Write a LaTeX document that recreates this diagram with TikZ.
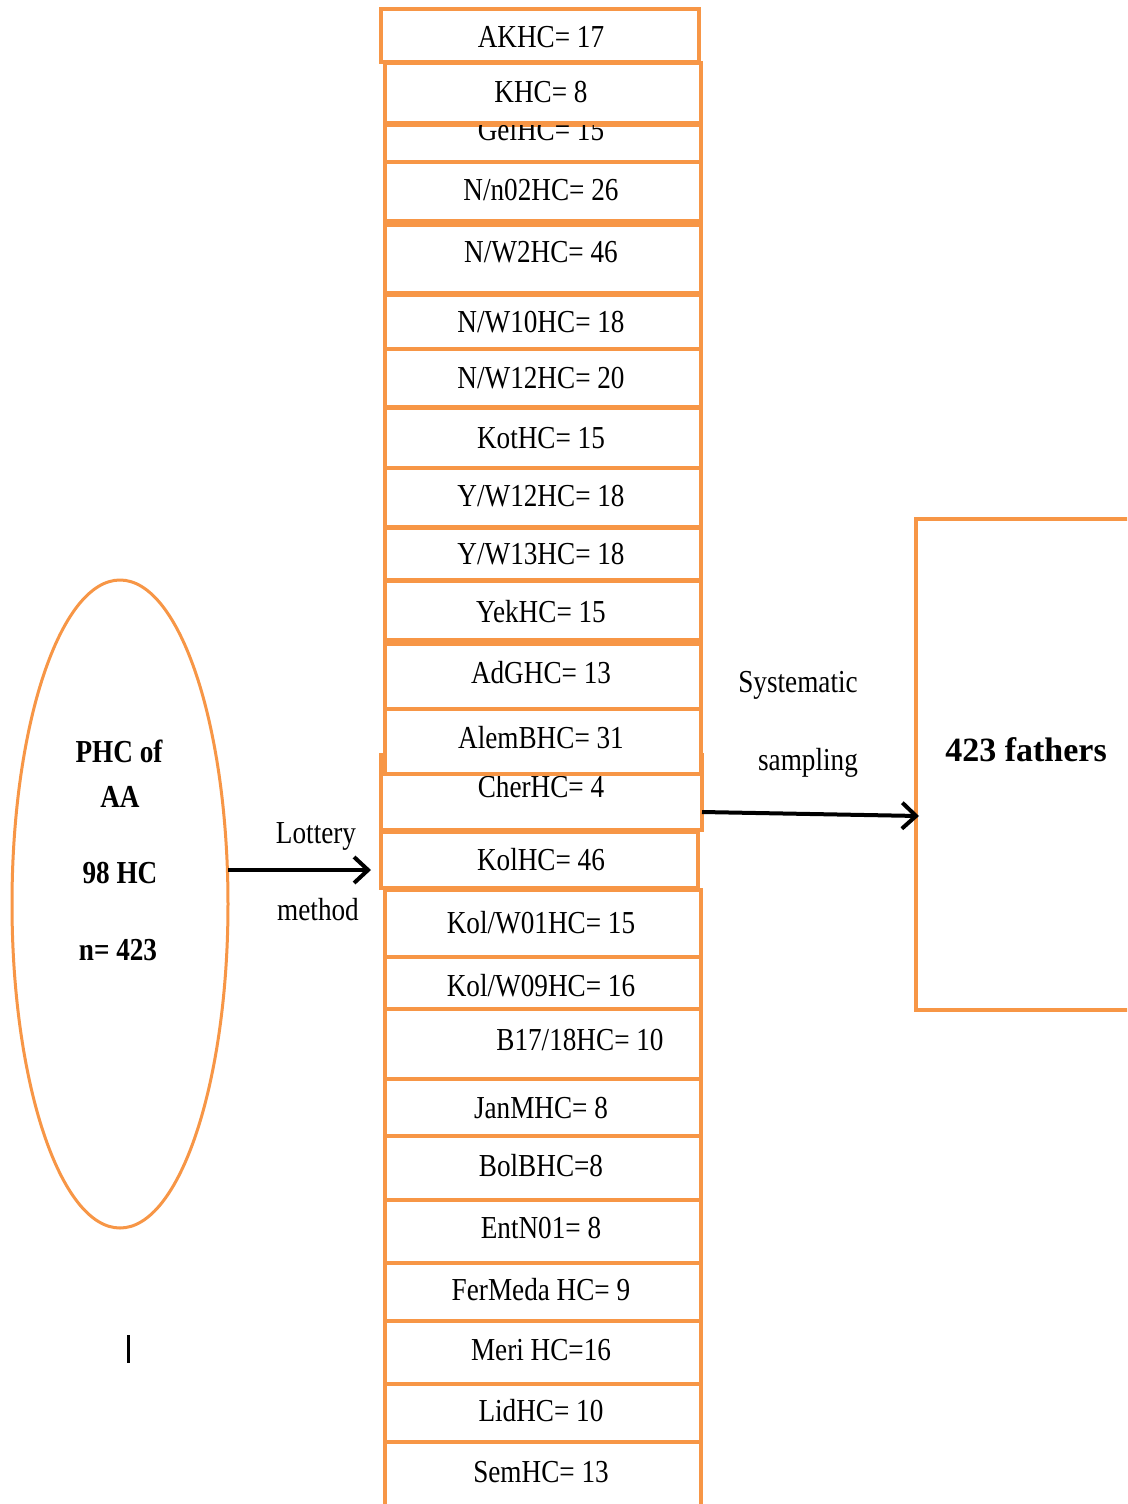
\documentclass[tikz,border=0pt]{standalone}
\usepackage{fontspec}
\setmainfont{Liberation Serif}
\newfontfamily\cond[FakeStretch=0.85]{Liberation Serif}
\usetikzlibrary{arrows.meta,shapes.geometric}
\definecolor{hcorange}{HTML}{F79646}
\tikzset{
 hcbox/.style={draw=hcorange, line width=4.5pt, fill=white, rectangle, inner sep=0pt, outer sep=0pt, anchor=north west},
 hctext/.style={inner sep=0pt, anchor=base, font=\cond\fontsize{32}{38}\selectfont},
 hcbold/.style={hctext, font=\cond\bfseries\fontsize{32}{38}\selectfont},
 flow/.style={line width=4pt, -{Straight Barb[length=14pt,width=26pt,line width=4pt]}},
}
\newcommand\hcb[8]{%
  \node[hcbox, minimum width={#4-#2}, minimum height={#5-#3}] (#1) at (#2,#3) {};
  \node[hctext] (#1t) at (#6,#7+10.5) {#8};
}
\begin{document}
\begin{tikzpicture}[x=1pt,y=-1pt]
\clip (0,0) rectangle (1127,1504);
\fill[white] (0,0) rectangle (1127,1504);
% column of health centres
\hcb{akhc}{381}{9}{699}{62}{541}{37}{AKHC= 17}
\hcb{gel}{385}{125}{701}{162}{541}{130}{GelHC= 15}
\hcb{khc}{385}{63}{701}{123}{541}{92}{KHC= 8}
\hcb{nn02}{385}{162}{701}{221}{541}{190}{N/n02HC= 26}
\hcb{nw2}{385}{225}{701}{293}{541}{252}{N/W2HC= 46}
\hcb{nw10}{385}{295}{701}{349}{541}{322}{N/W10HC= 18}
\hcb{nw12}{385}{349}{701}{407}{541}{378}{N/W12HC= 20}
\hcb{kot}{385}{408}{701}{468}{541}{438}{KotHC= 15}
\hcb{yw12}{385}{468}{701}{527}{541}{496}{Y/W12HC= 18}
\hcb{yw13}{385}{528}{701}{580}{541}{554}{Y/W13HC= 18}
\hcb{yek}{385}{581}{701}{640}{541}{612}{YekHC= 15}
\hcb{adg}{385}{644}{701}{709}{541}{673}{AdGHC= 13}
\hcb{cher}{381}{755}{702}{830}{541}{787}{CherHC= 4}
\hcb{alemb}{385}{709}{701}{774}{541}{738}{AlemBHC= 31}
\hcb{kol}{381}{832}{698}{888}{541}{860}{KolHC= 46}
\hcb{kolw01}{385}{890}{701}{957}{541}{923}{Kol/W01HC= 15}
\hcb{kolw09}{385}{957}{701}{1009}{541}{986}{Kol/W09HC= 16}
\hcb{b17}{385}{1009}{701}{1079}{580}{1040}{B17/18HC= 10}
\hcb{janm}{385}{1079}{701}{1136}{541}{1108}{JanMHC= 8}
\hcb{bolb}{385}{1136}{701}{1200}{541}{1166}{BolBHC=8}
\hcb{entn}{385}{1200}{701}{1263}{541}{1228}{EntN01= 8}
\hcb{fermeda}{385}{1263}{701}{1321}{541}{1290}{FerMeda HC= 9}
\hcb{meri}{385}{1321}{701}{1384}{541}{1350}{Meri HC=16}
\hcb{lid}{385}{1384}{701}{1442}{541}{1411}{LidHC= 10}
\hcb{sem}{385}{1442}{701}{1520}{541}{1472}{SemHC= 13}
% population ellipse
\node[ellipse, draw=hcorange, line width=3pt, minimum width=216, minimum height=648, inner sep=0pt] (phc) at (120,904) {};
\node[hcbold] (phc1) at (119,752+10.5) {PHC of};
\node[hcbold] (phc2) at (120,797+10.5) {AA};
\node[hcbold] (phc3) at (120,873+10.5) {98 HC};
\node[hcbold] (phc4) at (118,950+10.5) {n= 423};
% sample box
\node[hcbox, line width=4pt, minimum width=240, minimum height=491] (fbox) at (916,519) {};
\node[hctext, font=\bfseries\fontsize{34}{40}\selectfont] (fathers) at (1026,750+11) {423 fathers};
% arrows
\coordinate (a1s) at (228,870);
\coordinate (a1e) at (371,870);
\draw[flow] (a1s) -- (a1e);
\node[hctext] (lot) at (316,833+10.5) {Lottery};
\node[hctext] (meth) at (318,910+10.5) {method};
\coordinate (a2s) at (702,812);
\coordinate (a2e) at (919,816);
\draw[flow] (a2s) -- (a2e);
\node[hctext] (sys) at (798,682+10.5) {Systematic};
\node[hctext] (samp) at (808,760+10.5) {sampling};
% stray cursor mark
\coordinate (cur1) at (128,1335);
\coordinate (cur2) at (128,1363);
\draw[line width=3pt] (cur1) -- (cur2);
\end{tikzpicture}
\end{document}
